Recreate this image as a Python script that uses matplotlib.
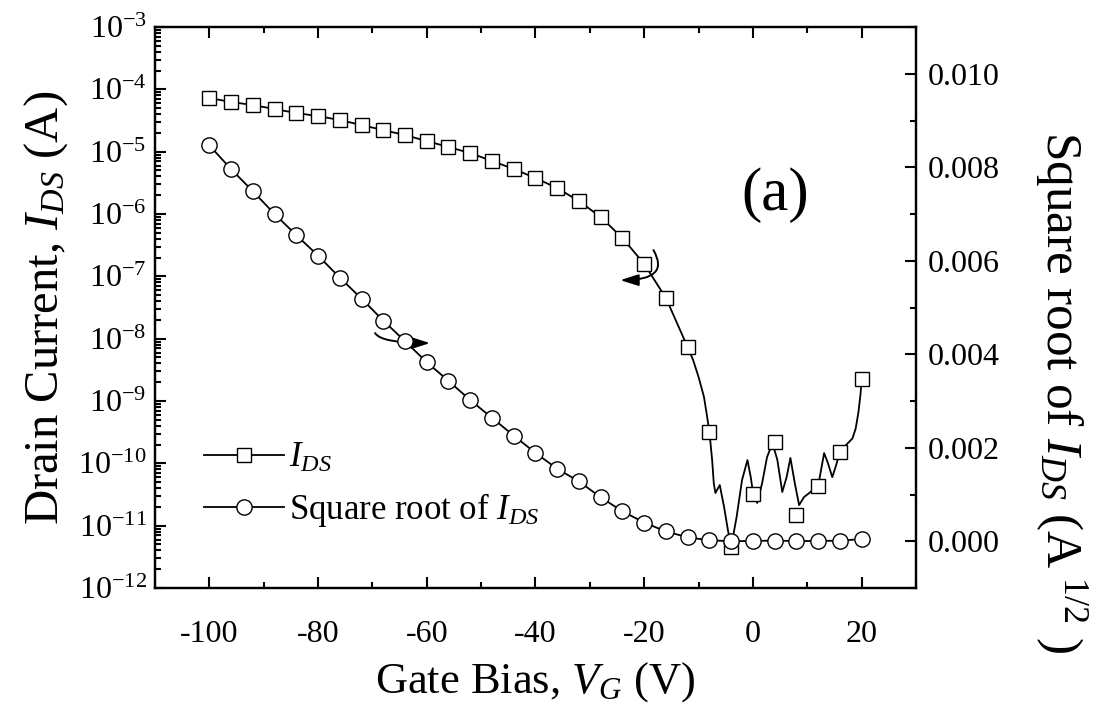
import numpy as np
import matplotlib
matplotlib.use("Agg")
import matplotlib.pyplot as plt
from matplotlib.lines import Line2D
from matplotlib.ticker import LogLocator, MultipleLocator, FuncFormatter, NullFormatter

plt.rcParams['font.family'] = ['Liberation Serif', 'DejaVu Serif']
plt.rcParams['mathtext.fontset'] = 'custom'
plt.rcParams['mathtext.rm'] = 'Liberation Serif'
plt.rcParams['mathtext.it'] = 'Liberation Serif:italic'
plt.rcParams['axes.unicode_minus'] = False

# gate bias of the plotted markers (V)
vg = list(range(-100, 21, 4))

# drain current at the square markers (A)
ids = [7.26e-5, 6.27e-5, 5.61e-5, 4.83e-5, 4.17e-5, 3.73e-5, 3.22e-5, 2.68e-5,
       2.22e-5, 1.85e-5, 1.48e-5, 1.19e-5, 9.5e-6, 7.1e-6, 5.27e-6, 3.78e-6,
       2.61e-6, 1.61e-6, 8.95e-7, 4.12e-7, 1.58e-7, 4.49e-8, 7.3e-9, 3.18e-10,
       4.54e-12, 3.22e-11, 2.2e-10, 1.48e-11, 4.33e-11, 1.52e-10, 2.25e-9]

# finer trace of the drain current line beyond -12 V (noisy off region)
vg_trace = [-11, -10, -9, -8.5, -8, -7.5, -7.2, -6.9, -6.1, -5.3, -4.6, -4,
            -3, -2, -1, -0.4, 0, 0.8, 1.7, 2.6, 3.6, 4.5, 5.4, 6.2, 6.9, 7.7,
            8.5, 9.4, 10.6, 12, 13.1, 13.8, 14.6, 15.2, 16, 17.3, 18.3, 18.9,
            19.4, 19.8, 20]
ids_trace = [4.55e-9, 2.43e-9, 1.16e-9, 6.2e-10, 3.18e-10, 1.13e-10, 4.83e-11,
             3.34e-11, 4.49e-11, 1.99e-11, 8.5e-12, 4.54e-12, 1.38e-11, 5.4e-11,
             1.13e-10, 6.0e-11, 3.47e-11, 2.31e-11, 4.83e-11, 1.26e-10, 2.12e-10,
             1.13e-10, 3.47e-11, 6.0e-11, 1.22e-10, 4.83e-11, 2.14e-11, 2.88e-11,
             3.47e-11, 4.33e-11, 1.46e-10, 1.01e-10, 6.0e-11, 8.7e-11, 1.52e-10,
             2.04e-10, 2.5e-10, 3.6e-10, 6.5e-10, 1.3e-9, 2.25e-9]

# square root of drain current (A^1/2)
sqrt_ids = [8.47e-3, 7.96e-3, 7.49e-3, 7.00e-3, 6.55e-3, 6.11e-3, 5.64e-3, 5.19e-3,
            4.72e-3, 4.28e-3, 3.83e-3, 3.43e-3, 3.02e-3, 2.64e-3, 2.26e-3, 1.89e-3,
            1.55e-3, 1.28e-3, 0.94e-3, 0.64e-3, 0.40e-3, 0.21e-3, 0.085e-3, 0.02e-3,
            0.002e-3, 0.006e-3, 0.015e-3, 0.004e-3, 0.007e-3, 0.012e-3, 0.047e-3]

line_vg = [v for v in vg if v <= -12] + vg_trace
line_ids = [i for v, i in zip(vg, ids) if v <= -12] + ids_trace

fig = plt.figure(figsize=(11.06, 7.17), dpi=100)
ax = fig.add_axes([0.1401, 0.1799, 0.6881, 0.7824])
ax2 = ax.twinx()

lw = 1.3
ax.plot(line_vg, line_ids, color='black', lw=lw)
ax.plot(vg, ids, ls='none', marker='s', ms=10, mfc='white', mec='black', mew=1.0)
ax2.plot(vg, sqrt_ids, color='black', lw=lw, marker='o', ms=11, mfc='white',
         mec='black', mew=1.0)

ax.set_yscale('log')
ax.set_xlim(-110, 30)
ax.set_ylim(1e-12, 1e-3)
ax2.set_ylim(-0.001, 0.011)

ax.xaxis.set_major_locator(MultipleLocator(20))
ax.xaxis.set_minor_locator(MultipleLocator(10))
ax.yaxis.set_major_locator(LogLocator(base=10, numticks=20))
ax.yaxis.set_minor_locator(LogLocator(base=10, subs=np.arange(2, 10), numticks=20))
ax.yaxis.set_minor_formatter(NullFormatter())
ax.yaxis.set_major_formatter(FuncFormatter(
    lambda v, p: r'$\mathregular{10^{%d}}$' % int(round(np.log10(v)))))
ax2.yaxis.set_major_locator(MultipleLocator(0.002))
ax2.yaxis.set_minor_locator(MultipleLocator(0.001))
ax2.yaxis.set_major_formatter(FuncFormatter(lambda v, p: '%.3f' % v))

for a in (ax, ax2):
    for s in a.spines.values():
        s.set_linewidth(1.6)
ax.tick_params(which='both', direction='in', top=True, right=False, width=1.5,
               labelsize=23)
ax.tick_params(which='major', length=8)
ax.tick_params(which='minor', length=4.5)
ax.tick_params(axis='x', pad=23)
ax.tick_params(axis='y', pad=6)
ax2.tick_params(which='both', direction='in', width=1.5, labelsize=23, pad=8.5)
ax2.tick_params(which='major', length=8)
ax2.tick_params(which='minor', length=4.5)

ax.set_xlabel(r'Gate Bias, $V_G$ (V)', fontsize=32, labelpad=8)
ax.set_ylabel(r'Drain Current, $I_{DS}$ (A)', fontsize=35, labelpad=6)
ax2.set_ylabel(r'Square root of $I_{DS}$ (A$^{\ 1/2}$ )', fontsize=37,
               rotation=-90, va='center', ha='center')
ax2.yaxis.set_label_coords(1.19, 0.35)

ax.text(0.815, 0.70, '(a)', transform=ax.transAxes, fontsize=44,
        ha='center', va='center')

arrow = dict(arrowstyle='-|>,head_length=1.1,head_width=0.35', color='black',
             lw=1.4, shrinkA=0, shrinkB=0)
ax.annotate('', xy=(-24.4, 8.7e-8), xytext=(-18.3, 2.64e-7),
            arrowprops=dict(arrow, connectionstyle='angle3,angleA=-60,angleB=0'))
ax.annotate('', xy=(-59.4, 8.5e-9), xytext=(-69.5, 1.23e-8),
            arrowprops=dict(arrow, connectionstyle='angle3,angleA=-60,angleB=0'))

handles = [
    Line2D([], [], color='black', lw=lw, marker='s', ms=10, mfc='white', mec='black'),
    Line2D([], [], color='black', lw=lw, marker='o', ms=11, mfc='white', mec='black'),
]
ax2.legend(handles, [r'$I_{DS}$', r'Square root of $I_{DS}$'], loc='upper left',
           bbox_to_anchor=(0.042, 0.291), frameon=False, fontsize=25,
           handlelength=2.3, handletextpad=0.15, labelspacing=0.45, borderpad=0)

fig.savefig('out.png', dpi=100)
